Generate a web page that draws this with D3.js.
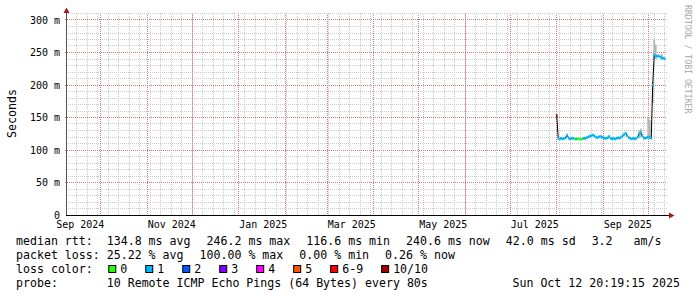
<!DOCTYPE html>
<html><head><meta charset="utf-8">
<script src="https://cdn.jsdelivr.net/npm/d3@7"></script>
<style>
html,body{margin:0;padding:0;background:#fff;}
svg{display:block;}
text{font-family:"DejaVu Sans Mono",monospace;white-space:pre;}
</style></head><body>
<svg id="c" width="697" height="297"></svg>
<script>
// ---------- data ----------
const rangeStart = "2024-09-07T20:19:15";
const rangeEnd   = "2025-10-12T20:19:15";
const firstSampleDay = "2025-08-01T00:00:00";
// daily median rtt (ms), starting at firstSampleDay
const medianMs = [
  153, 118, 117, 118, 117, 118, 119, 123, 118, 117,
  118, 118, 117, 117, 117, 117, 116.6, 117, 118, 118,
  119, 120, 121, 122, 123, 122, 120, 119, 120, 121,
  120, 119, 118, 118, 119, 121, 118, 117, 118, 117,
  118, 119, 118, 120, 122, 124, 126, 122, 119, 118,
  117, 118, 117, 118, 120, 125, 127, 122, 119, 118,
  119, 120, 119, 118, 200, 246.2, 245, 244, 245, 243,
  242, 241, 240.6
];
// lost pings out of 10 per day
const lossCount = [
  10, 1, 1, 1, 1, 1, 1, 1, 1, 1,
  1, 1, 0, 1, 0, 0, 0, 0, 1, 1,
  1, 1, 1, 1, 1, 1, 1, 1, 1, 1,
  1, 1, 1, 1, 1, 1, 1, 1, 1, 1,
  1, 1, 1, 1, 1, 1, 1, 1, 1, 1,
  1, 1, 1, 1, 1, 1, 1, 1, 1, 1,
  1, 1, 1, 1, 1, 1, 1, 1, 1, 1,
  1, 1, 1
];
// visible smoke (ping spread): [day index, low ms, high ms]
const smokeSpikes = [[55,118,130],[56,120,133],[61,118,150],[62,118,146],[64,172,205],[65,240,270],[66,240,262],[70,239,248]];

const yTicks = [0, 50, 100, 150, 200, 250, 300];
const yTickLabels = ["0", "50 m", "100 m", "150 m", "200 m", "250 m", "300 m"];
const xLabelMonths = ["2024-09-01","2024-11-01","2025-01-01","2025-03-01","2025-05-01","2025-07-01","2025-09-01"];
const lossLabels = ["0", "1", "2", "3", "4", "5", "6-9", "10/10"];
const lossColors = ["#26ff00", "#00b8ff", "#0059ff", "#7e00ff", "#ff00ff", "#ff5500", "#ff0000", "#a10000"];
const legendMedian = ["median rtt:  134.8 ms avg", "246.2 ms max", "116.6 ms min", "240.6 ms now", "42.0 ms sd", "3.2   am/s"];
const legendLoss = ["packet loss: 25.22 % avg", "100.00 % max", "0.00 % min", "0.26 % now"];
const lossTitle = "loss color:";
const probeText = "probe:       10 Remote ICMP Echo Pings (64 Bytes) every 80s";
const stampText = "Sun Oct 12 20:19:15 2025";
const unitLabel = "Seconds";
const creditText = "RRDTOOL / TOBI OETIKER";

// ---------- chart ----------
const svg = d3.select("#c");
svg.append("rect").attr("width", 697).attr("height", 297).attr("fill", "#fff");
const X0 = 66, X1 = 666, Y0 = 215, Y1 = 13.5;
const parse = s => new Date(s);
const x = d3.scaleTime().domain([parse(rangeStart), parse(rangeEnd)]).range([X0, X1]);
const y = d3.scaleLinear().domain([0, 310]).range([Y0, Y1]);
const px = v => Math.floor(v) + 0.5;

const MINOR = "#cbcbcb", MAJOR = "#d97a7a";
const grid = svg.append("g");
const hMinor = d3.range(10, 311, 10).filter(v => v % 50 !== 0);
grid.selectAll("line.hmin").data(hMinor).join("line").attr("class", "hmin")
  .attr("x1", X0).attr("x2", X1 + 1)
  .attr("y1", d => px(y(d))).attr("y2", d => px(y(d)))
  .attr("stroke", MINOR).attr("stroke-dasharray", "1,1");
const weeks = d3.timeSunday.range(x.domain()[0], x.domain()[1]);
grid.selectAll("line.vmin").data(weeks).join("line").attr("class", "vmin")
  .attr("x1", d => px(x(d))).attr("x2", d => px(x(d)))
  .attr("y1", Y0).attr("y2", Y1)
  .attr("stroke", MINOR).attr("stroke-dasharray", "1,1");
grid.selectAll("line.hmaj").data(yTicks.filter(v => v > 0)).join("line").attr("class", "hmaj")
  .attr("x1", X0 - 1).attr("x2", X1 + 1)
  .attr("y1", d => px(y(d))).attr("y2", d => px(y(d)))
  .attr("stroke", MAJOR).attr("stroke-dasharray", "1,1");
const months = d3.timeMonth.range(x.domain()[0], x.domain()[1]);
grid.selectAll("line.vmaj").data(months).join("line").attr("class", "vmaj")
  .attr("x1", d => px(x(d))).attr("x2", d => px(x(d)))
  .attr("y1", Y0 + 1).attr("y2", Y1)
  .attr("stroke", MAJOR).attr("stroke-dasharray", "1,1");

// data
const days = medianMs.map((_, i) => d3.timeDay.offset(parse(firstSampleDay), i));
const lossIdx = l => l <= 5 ? l : (l <= 9 ? 6 : 7);
const plot = svg.append("g");
plot.selectAll("rect.smoke").data(smokeSpikes).join("rect").attr("class", "smoke")
  .attr("x", d => x(days[d[0]]) - 0.9).attr("width", 1.8)
  .attr("y", d => y(d[2])).attr("height", d => y(d[1]) - y(d[2]))
  .attr("fill", "#b4b4b4");
plot.append("path")
  .attr("d", d3.line().x((d, i) => x(days[i])).y(d => y(d))(medianMs))
  .attr("fill", "none").attr("stroke", "#000").attr("stroke-width", 1);
plot.selectAll("line.med").data(medianMs).join("line").attr("class", "med")
  .attr("x1", (d, i) => x(days[i]) - 0.85).attr("x2", (d, i) => x(days[i]) + 0.85)
  .attr("y1", d => y(d)).attr("y2", d => y(d))
  .attr("stroke", (d, i) => lossColors[lossIdx(lossCount[i])]).attr("stroke-width", 2.6);

// axes
const yAxis = svg.append("g").attr("transform", `translate(${X0},0)`)
  .call(d3.axisLeft(y).tickValues(yTicks).tickFormat((d, i) => yTickLabels[i]).tickSize(0).tickPadding(6));
yAxis.select(".domain").remove();
yAxis.selectAll("line").remove();
yAxis.selectAll("text").attr("font-family", "DejaVu Sans Mono").attr("font-size", 10).attr("fill", "#000");
const xAxis = svg.append("g").attr("transform", `translate(0,${Y0})`)
  .call(d3.axisBottom(x).tickValues(xLabelMonths.map(parse)).tickFormat(d3.timeFormat("%b %Y")).tickSize(0).tickPadding(6));
xAxis.select(".domain").remove();
xAxis.selectAll("line").remove();
xAxis.selectAll("text").attr("font-family", "DejaVu Sans Mono").attr("font-size", 10).attr("fill", "#000").attr("text-anchor", "start");

svg.append("line").attr("x1", X0 + 0.5).attr("x2", X0 + 0.5).attr("y1", Y0).attr("y2", 12)
  .attr("stroke", "#555");
svg.append("line").attr("x1", X0).attr("x2", 670).attr("y1", Y0 + 0.5).attr("y2", Y0 + 0.5)
  .attr("stroke", "#000");
svg.append("path").attr("d", `M${X0 - 2.5},13 L${X0 + 3.5},13 L${X0 + 0.5},7.5 Z`).attr("fill", "#a01c1c");
svg.append("path").attr("d", `M669,212.5 L669,218.5 L674.5,215.5 Z`).attr("fill", "#a01c1c");

// unit label + credit
svg.append("text").attr("transform", "translate(16,113.5) rotate(-90)")
  .attr("text-anchor", "middle").attr("font-size", 11.6).text(unitLabel);
svg.append("text").attr("transform", "translate(685,5) rotate(90)")
  .attr("font-size", 8.2).attr("fill", "#a8a8a8").text(creditText);

// legend
const LX = 16, FS = 11.6, GAP = 16;
function row(items, yb) {
  let cx = LX;
  items.forEach(s => {
    const t = svg.append("text").attr("x", cx).attr("y", yb).attr("font-size", FS).text(s);
    cx += t.node().getComputedTextLength() + GAP;
  });
}
row(legendMedian, 245);
row(legendLoss, 259);
{
  const t = svg.append("text").attr("x", LX).attr("y", 273).attr("font-size", FS).text(lossTitle);
  let cx = LX + t.node().getComputedTextLength() + 15.5;
  lossLabels.forEach((lab, i) => {
    svg.append("rect").attr("x", cx + 0.5).attr("y", 265.5).attr("width", 7).attr("height", 7)
      .attr("fill", lossColors[i]).attr("stroke", "#000");
    const tt = svg.append("text").attr("x", cx + 12).attr("y", 273).attr("font-size", FS).text(lab);
    cx += 12 + tt.node().getComputedTextLength() + 18;
  });
}
svg.append("text").attr("x", LX).attr("y", 287).attr("font-size", FS).text(probeText);
svg.append("text").attr("x", 680).attr("y", 287).attr("font-size", FS).attr("text-anchor", "end").text(stampText);
</script>
</body></html>
